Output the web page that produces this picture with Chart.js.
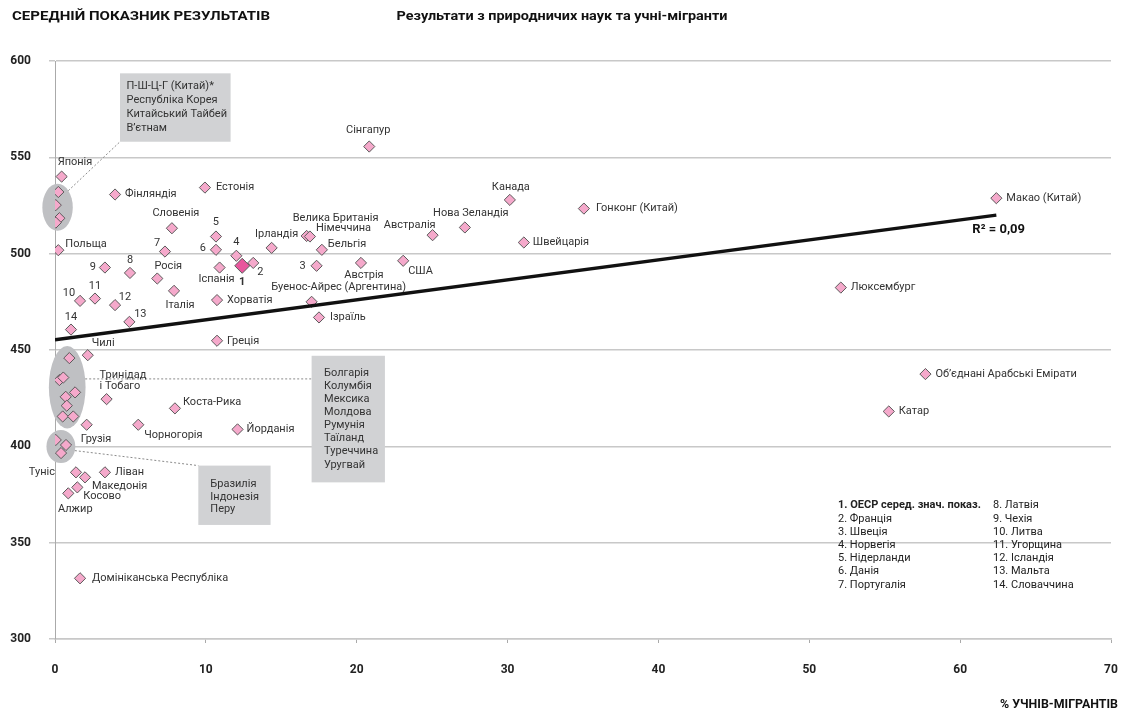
<!DOCTYPE html>
<html><head><meta charset="utf-8">
<script src="https://cdn.jsdelivr.net/npm/chart.js@4/dist/chart.umd.min.js"></script>
<style>html,body{margin:0;padding:0;background:#fff}#wrap{width:1122px;height:714px}</style>
</head><body><div id="wrap"><canvas id="c" width="1122" height="714"></canvas></div>
<script>
// ---------------- DATA ----------------
const countryNames = [
 'Японія','П-Ш-Ц-Г (Китай)*','Республіка Корея','Китайський Тайбей','В’єтнам',
 'Фінляндія','Естонія','Словенія','Нідерланди','Польща','Португалія','Данія','Норвегія','Франція','Ірландія',
 'Чехія','Латвія','Росія','Іспанія','Італія','Хорватія','Литва','Угорщина','Ісландія','Мальта','Словаччина',
 'Греція','Чилі','Велика Британія','Німеччина','Бельгія','Швеція','Австрія','США','Буенос-Айрес (Аргентина)','Ізраїль',
 'Сінгапур','Канада','Гонконг (Китай)','Нова Зеландія','Австралія','Швейцарія',
 'Макао (Китай)','Люксембург','Об’єднані Арабські Емірати','Катар',
 'Болгарія','Колумбія','Мексика','Молдова','Румунія','Таїланд','Туреччина','Уругвай',
 'Тринідад і Тобаго','Грузія','Коста-Рика','Чорногорія','Йорданія',
 'Бразилія','Індонезія','Перу',
 'Туніс','Ліван','Македонія','Косово','Алжир','Домініканська Республіка'
];
const pointLabels = [
 'Японія','','','','',
 'Фінляндія','Естонія','Словенія','5','Польща','7','6','4','2','Ірландія',
 '9','8','Росія','Іспанія','Італія','Хорватія','10','11','12','13','14',
 'Греція','Чилі','Велика Британія','Німеччина','Бельгія','3','Австрія','США','Буенос-Айрес (Аргентина)','Ізраїль',
 'Сінгапур','Канада','Гонконг (Китай)','Нова Зеландія','Австралія','Швейцарія',
 'Макао (Китай)','Люксембург','Об’єднані Арабські Емірати','Катар',
 '','','','','','','','',
 'Тринідад\nі Тобаго','Грузія','Коста-Рика','Чорногорія','Йорданія',
 '','','',
 'Туніс','Ліван','Македонія','Косово','Алжир','Домініканська Республіка'
];
const migrantShare = [
 0.44,0.22,0.05,0.29,0.05,
 3.98,9.94,7.75,10.67,0.22,7.29,10.67,12.02,13.14,14.36,
 3.31,4.97,6.78,10.91,7.89,10.74,1.66,2.65,3.98,4.93,1.06,
 10.74,2.17,16.68,16.9,17.69,17.34,20.28,23.08,17.01,17.5,
 20.83,30.15,35.06,27.17,25.03,31.08,
 62.4,52.09,57.7,55.27,
 0.95,0.29,0.55,1.33,0.71,0.78,0.51,1.21,
 3.42,2.1,7.95,5.52,12.1,
 0.05,0.73,0.4,
 1.39,3.31,1.99,1.48,0.88,1.66
];
const scienceScore = [
 540,532,525.2,518.4,516.1,
 530.7,534.3,513.2,508.9,501.8,501.1,502,498.9,495.2,503,
 492.8,490,487.1,492.8,480.7,475.9,475.5,476.7,473.3,464.6,460.6,
 454.8,447.3,509.2,508.9,502,493.7,495.2,496.3,475,466.9,
 555.6,527.9,523.4,513.6,509.6,505.8,
 528.8,482.4,437.5,418.1,
 445.8,434.4,435.7,428,425.7,421.1,415.5,415.5,
 424.5,411.2,419.7,411.2,408.8,
 403.3,400.7,396.5,
 386.5,386.5,383.9,378.7,375.6,331.5
];
const clusterGroup = [
 0,1,1,1,1,
 0,0,0,0,0,0,0,0,0,0,
 0,0,0,0,0,0,0,0,0,0,0,
 0,0,0,0,0,0,0,0,0,0,
 0,0,0,0,0,0,
 0,0,0,0,
 2,2,2,2,2,2,2,2,
 0,0,0,0,0,
 3,3,3,
 0,0,0,0,0,0
];
const oecdLabel = '1';
const oecdShare = [12.41];
const oecdScore = [493.7];
const trendShare = [0, 62.4];
const trendScore = [455.3, 520.0];
const rSquaredText = 'R² = 0,09';
const xTickValues = [0,10,20,30,40,50,60,70];
const yTickValues = [300,350,400,450,500,550,600];
const legendLeft = ['1. ОЕСР серед. знач. показ.','2. Франція','3. Швеція','4. Норвегія','5. Нідерланди','6. Данія','7. Португалія'];
const legendRight = ['8. Латвія','9. Чехія','10. Литва','11. Угорщина','12. Ісландія','13. Мальта','14. Словаччина'];
const group1Names = ['П-Ш-Ц-Г (Китай)*','Республіка Корея','Китайський Тайбей','В’єтнам'];
const group2Names = ['Болгарія','Колумбія','Мексика','Молдова','Румунія','Таїланд','Туреччина','Уругвай'];
const group3Names = ['Бразилія','Індонезія','Перу'];
const titleLeft = 'СЕРЕДНІЙ ПОКАЗНИК РЕЗУЛЬТАТІВ';
const titleMain = 'Результати з природничих наук та учні-мігранти';
const xAxisTitle = '% УЧНІВ-МІГРАНТІВ';

// ---------------- STYLE / PLACEMENT ----------------
const labelPlacement = {
 'Японія':[-4,-14,'left'],'Фінляндія':[10,0,'left'],'Естонія':[11,0,'left'],'Словенія':[4,-15,'center'],
 'Нідерланди':[0,-14,'center'],'Польща':[7,-6,'left'],'Португалія':[-8,-8,'center'],'Данія':[-10,-2,'right'],
 'Норвегія':[0,-14,'center'],'Франція':[7,9,'center'],'Ірландія':[5,-14,'center'],'Чехія':[-9,0,'right'],
 'Латвія':[0,-13,'center'],'Росія':[11,-12,'center'],'Іспанія':[-3,12,'center'],'Італія':[6,14,'center'],
 'Хорватія':[10,0,'left'],'Литва':[-11,-8,'center'],'Угорщина':[0,-12,'center'],'Ісландія':[10,-8,'center'],
 'Мальта':[11,-8,'center'],'Словаччина':[0,-12,'center'],'Греція':[10,0,'left'],'Чилі':[4,-12,'left'],
 'Велика Британія':[29,-18,'center'],'Німеччина':[6,-8,'left'],'Бельгія':[6,-6,'left'],'Швеція':[-11,0,'right'],
 'Австрія':[3,12,'center'],'США':[5,10,'left'],'Буенос-Айрес (Аргентина)':[27,-15,'center'],'Ізраїль':[11,0,'left'],
 'Сінгапур':[-1,-16,'center'],'Канада':[1,-13,'center'],'Гонконг (Китай)':[12,0,'left'],'Нова Зеландія':[6,-14,'center'],
 'Австралія':[3,-10,'right'],'Швейцарія':[9,0,'left'],'Макао (Китай)':[10,0,'left'],'Люксембург':[10,0,'left'],
 'Об’єднані Арабські Емірати':[10,0,'left'],'Катар':[10,0,'left'],'Тринідад і Тобаго':[-7,-24,'left'],
 'Грузія':[-6,14,'left'],'Коста-Рика':[8,-6,'left'],'Чорногорія':[6,10,'left'],'Йорданія':[9,0,'left'],
 'Туніс':[-21,0,'right'],'Ліван':[10,0,'left'],'Македонія':[7,9,'left'],'Косово':[6,9,'left'],
 'Алжир':[7,16,'center'],'Домініканська Республіка':[12,0,'left']
};
const ellipsePad = {1:[13.4,8.2],2:[10.5,12],3:[9.3,10]};
// callout boxes: data-space corners [x0,yTop,x1,yBottom]
const calloutBoxes = [
 {group:1, rect:[4.31,593.6,11.64,558.1], names:group1Names, textDx:6.5, firstDy:13, lineH:14},
 {group:2, rect:[17.01,447.0,21.87,381.3], names:group2Names, textDx:12.5, firstDy:17.3, lineH:13.1},
 {group:3, rect:[9.5,390.0,14.29,359.2], names:group3Names, textDx:12, firstDy:18.3, lineH:12.9}
];
const PINK='#f5a9cb', PINK_DARK='#e8579d', EDGE='#5a5a5a', TXT='#333';
const FONT='Roboto, "Noto Sans", sans-serif';

const countryData = migrantShare.map((x,i)=>({x, y:scienceScore[i], name:countryNames[i], lbl:pointLabels[i], g:clusterGroup[i]}));
const oecdData = oecdShare.map((x,i)=>({x, y:oecdScore[i], name:'ОЕСР', lbl:oecdLabel, g:0}));
const trendData = trendShare.map((x,i)=>({x, y:trendScore[i]}));

function fitText(ctx, text, x, y, width, font, align){
  ctx.save(); ctx.font = font;
  const w = ctx.measureText(text).width, s = width / w;
  ctx.translate(x, y); ctx.scale(s, 1);
  ctx.textAlign = align; ctx.textBaseline = 'middle';
  ctx.fillText(text, 0, 0); ctx.restore();
}

const decorPlugin = {
  id:'decor',
  beforeDatasetsDraw(chart){
    const ctx = chart.ctx, xs = chart.scales.x, ys = chart.scales.y;
    const ell = {};
    [1,2,3].forEach(g=>{
      const pts = countryData.filter(p=>p.g===g).map(p=>[xs.getPixelForValue(p.x), ys.getPixelForValue(p.y)]);
      const x0=Math.min(...pts.map(p=>p[0])), x1=Math.max(...pts.map(p=>p[0]));
      const y0=Math.min(...pts.map(p=>p[1])), y1=Math.max(...pts.map(p=>p[1]));
      const e = {cx:(x0+x1)/2, cy:(y0+y1)/2, rx:(x1-x0)/2+ellipsePad[g][0], ry:(y1-y0)/2+ellipsePad[g][1]};
      ell[g]=e;
      ctx.save(); ctx.fillStyle='#bfc0c3';
      ctx.beginPath(); ctx.ellipse(e.cx,e.cy,e.rx,e.ry,0,0,Math.PI*2); ctx.fill(); ctx.restore();
    });
    chart.$ell = ell;
    chart.$boxes = calloutBoxes.map(b=>{
      const L=xs.getPixelForValue(b.rect[0]), T=ys.getPixelForValue(b.rect[1]);
      const R=xs.getPixelForValue(b.rect[2]), B=ys.getPixelForValue(b.rect[3]);
      ctx.save(); ctx.fillStyle='#d1d2d4'; ctx.fillRect(L,T,R-L,B-T); ctx.restore();
      return {L,T,R,B,b};
    });
    const bx = chart.$boxes;
    ctx.save(); ctx.strokeStyle='#8a8a8a'; ctx.lineWidth=1; ctx.setLineDash([2,2]);
    const e1=ell[1], a1=-Math.PI/4;
    ctx.beginPath(); ctx.moveTo(e1.cx+e1.rx*Math.cos(a1), e1.cy+e1.ry*Math.sin(a1)); ctx.lineTo(bx[0].L, bx[0].B); ctx.stroke();
    const e2=ell[2], yl=ys.getPixelForValue(435), dyy=(yl-e2.cy)/e2.ry;
    ctx.beginPath(); ctx.moveTo(e2.cx+e2.rx*Math.sqrt(Math.max(0,1-dyy*dyy)), yl); ctx.lineTo(bx[1].L, yl); ctx.stroke();
    const e3=ell[3], a3=0.25;
    ctx.beginPath(); ctx.moveTo(e3.cx+e3.rx*Math.cos(a3), e3.cy+e3.ry*Math.sin(a3)); ctx.lineTo(bx[2].L, bx[2].T); ctx.stroke();
    ctx.restore();
  },
  afterDatasetsDraw(chart){
    const ctx = chart.ctx, xs = chart.scales.x, ys = chart.scales.y, ca = chart.chartArea;
    ctx.save(); ctx.fillStyle=TXT; ctx.textBaseline='middle';
    countryData.concat(oecdData).forEach(p=>{
      if(!p.lbl) return;
      const pl = labelPlacement[p.name] || [0,16,'center'];
      const px = xs.getPixelForValue(p.x), py = ys.getPixelForValue(p.y);
      ctx.font = (p.name==='ОЕСР' ? 'bold ' : '') + '11px ' + FONT;
      ctx.textAlign = pl[2];
      p.lbl.split('\n').forEach((ln,k)=>ctx.fillText(ln, px+pl[0], py+pl[1]+k*11));
    });
    ctx.font='11px '+FONT; ctx.textAlign='left';
    chart.$boxes.forEach(bb=>{
      bb.b.names.forEach((n,k)=>ctx.fillText(n, bb.L+bb.b.textDx, bb.T+bb.b.firstDy+k*bb.b.lineH));
    });
    const lx1 = ca.right-273, lx2 = ca.right-118, ly = ys.getPixelForValue(350)-37;
    legendLeft.forEach((t,k)=>{ ctx.font=(k===0?'bold ':'')+'11px '+FONT; ctx.fillStyle='#222'; ctx.fillText(t,lx1,ly+k*13.2); });
    ctx.font='11px '+FONT;
    legendRight.forEach((t,k)=>ctx.fillText(t,lx2,ly+k*13.2));
    ctx.font='bold 13px '+FONT; ctx.fillStyle='#111';
    ctx.fillText(rSquaredText, xs.getPixelForValue(trendShare[1])-24, ys.getPixelForValue(trendScore[1])+15);
    ctx.restore();
    ctx.save(); ctx.fillStyle='#111';
    fitText(ctx, titleLeft, 12, 17, 258, 'bold 13px '+FONT, 'left');
    fitText(ctx, titleMain, 562, 17, 331, 'bold 13px '+FONT, 'center');
    fitText(ctx, xAxisTitle, 1118, 705, 118, 'bold 12px '+FONT, 'right');
    ctx.restore();
  }
};

new Chart(document.getElementById('c'), {
  type:'scatter',
  data:{ datasets:[
    {label:'trend', type:'line', data:trendData, borderColor:'#111', borderWidth:3.5, pointRadius:0, fill:false, order:-1},
    {label:'oecd', data:oecdData, pointStyle:'rectRot', pointRadius:7.5, pointHoverRadius:7.5, backgroundColor:PINK_DARK, borderColor:EDGE, borderWidth:1, order:0},
    {label:'countries', data:countryData, pointStyle:'rectRot', pointRadius:5.6, pointHoverRadius:5.6, backgroundColor:PINK, borderColor:EDGE, borderWidth:1, order:1}
  ]},
  options:{
    responsive:false, animation:false, devicePixelRatio:1,
    layout:{padding:{left:0,top:61,right:11,bottom:0}},
    plugins:{legend:{display:false}, tooltip:{enabled:false}, title:{display:false}},
    scales:{
      x:{type:'linear', min:0, max:70,
         afterBuildTicks(s){ s.ticks = xTickValues.map(v=>({value:v})); },
         afterFit(s){ s.height = 75; s.paddingLeft = 0; s.paddingRight = 0; },
         ticks:{font:{family:FONT, size:12, weight:'bold'}, color:'#222', padding:20, maxRotation:0, minRotation:0},
         grid:{display:true, drawOnChartArea:false, drawTicks:true, tickLength:4, color:'#aaa'},
         border:{display:true, color:'#c8c8c8', width:1.5}},
      y:{type:'linear', min:300, max:600,
         afterBuildTicks(s){ s.ticks = yTickValues.map(v=>({value:v})); },
         afterFit(s){ s.width = 55; s.paddingTop = 0; s.paddingBottom = 0; },
         ticks:{font:{family:FONT, size:12, weight:'bold'}, color:'#222', padding:18},
         grid:{color:'#c8c8c8', lineWidth:1.5, tickLength:6, drawTicks:true},
         border:{display:true, color:'#aaa', width:1}}
    }
  },
  plugins:[decorPlugin]
});
</script></body></html>
